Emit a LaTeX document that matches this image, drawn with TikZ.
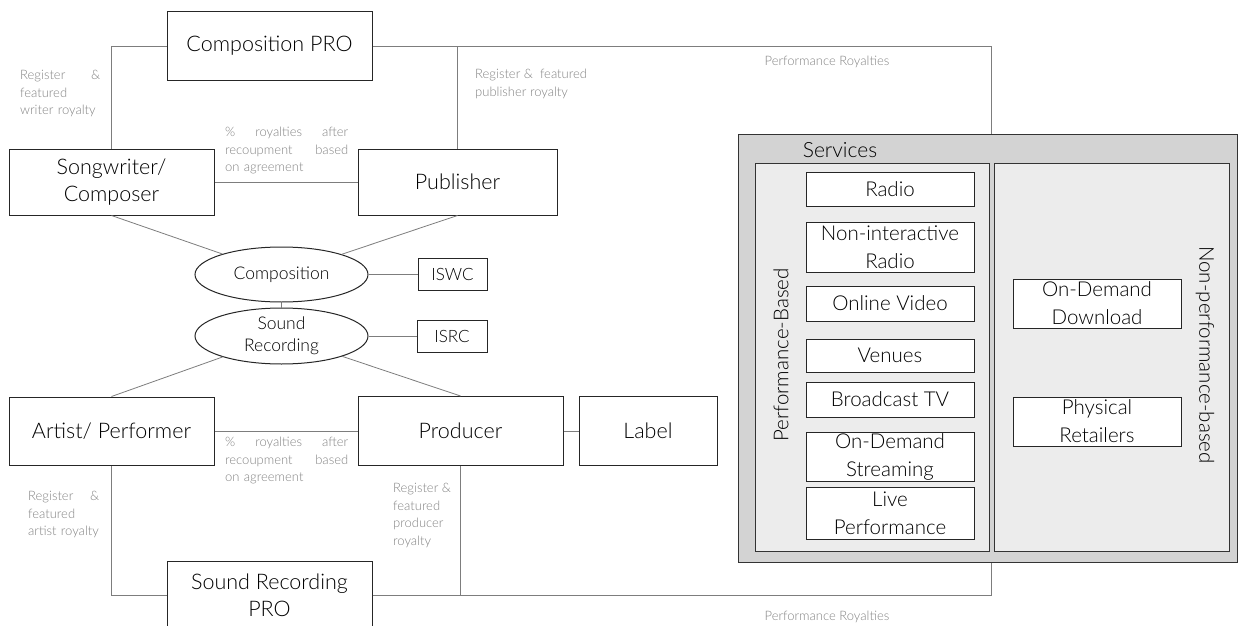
\documentclass[tikz,border=0pt]{standalone}
\usepackage{fontspec}
\setmainfont{Lato Light}
\usetikzlibrary{shapes.geometric}

\definecolor{linegray}{RGB}{125,125,125}
\definecolor{notegray}{RGB}{130,130,130}
\definecolor{svcouter}{RGB}{211,211,211}
\definecolor{svcinner}{RGB}{236,236,236}

\tikzset{
  box/.style={draw=black!85, line width=1pt, fill=white, inner sep=0pt, align=center,
    font=\fontsize{21.5}{27}\selectfont},
  oval/.style={box, ellipse, font=\fontsize{17.5}{22}\selectfont},
  tag/.style={box, font=\fontsize{17}{20}\selectfont},
  svcitem/.style={box, minimum width=168pt, font=\fontsize{20.5}{28}\selectfont},
  panel/.style={draw=black!80, line width=1pt, inner sep=0pt},
  conn/.style={draw=linegray, line width=0.8pt},
  note/.style={text=notegray, font=\fontsize{13}{17.5}\selectfont, inner sep=0pt,
    anchor=north west, align=left}
}

\begin{document}
\begin{tikzpicture}[x=1pt,y=-1pt]
\useasboundingbox (0,0) rectangle (1239,626);

%Services block
\node[panel, fill=svcouter, minimum width=499pt, minimum height=428pt] (svc) at (987.5,348) {};
\node[panel, fill=svcinner, minimum width=234pt, minimum height=388pt] (perfpanel) at (872,357) {};
\node[panel, fill=svcinner, minimum width=235pt, minimum height=388pt] (nonpanel) at (1111.5,357) {};
\node[font=\fontsize{21}{24}\selectfont, inner sep=0pt] (svctitle) at (840,150) {Services};
\node[rotate=90, font=\fontsize{20.5}{24}\selectfont, inner sep=0pt] (perftitle) at (781,355) {Performance-Based};
\node[rotate=-90, font=\fontsize{20.5}{24}\selectfont, inner sep=0pt] (nontitle) at (1205,355) {Non-performance-based};

% performance-based services
\node[svcitem, minimum height=34pt] (radio) at (890,189) {Radio};
\node[svcitem, minimum height=50pt] (nonint) at (890,247) {Non-interactive\\Radio};
\node[svcitem, minimum height=35pt] (video) at (890,303.5) {Online Video};
\node[svcitem, minimum height=33pt] (venues) at (890,355.5) {Venues};
\node[svcitem, minimum height=35pt] (btv) at (890,399.5) {Broadcast TV};
\node[svcitem, minimum height=49pt] (stream) at (890,456.5) {On-Demand\\Streaming};
\node[svcitem, minimum height=52pt] (live) at (890,513) {Live\\Performance};

% non-performance-based services
\node[svcitem, minimum height=49pt] (download) at (1097,303.5) {On-Demand\\Download};
\node[svcitem, minimum height=49pt] (retail) at (1097,421.5) {Physical\\Retailers};

%Rights holders
\node[box, minimum width=205pt, minimum height=68pt] (cpro) at (269.5,46) {Composition PRO};
\node[box, minimum width=205pt, minimum height=66pt] (song) at (111.5,182) {Songwriter/\\Composer};
\node[box, minimum width=199pt, minimum height=66pt] (pub) at (457.5,182) {Publisher};
\node[oval, minimum width=173pt, minimum height=55pt] (comp) at (281.5,274.5) {Composition};
\node[tag, minimum width=69pt, minimum height=32pt] (iswc) at (452.5,274.5) {ISWC};
\node[oval, minimum width=173pt, minimum height=56pt] (snd) at (281.5,336) {Sound\\Recording};
\node[tag, minimum width=70pt, minimum height=32pt] (isrc) at (452,336) {ISRC};
\node[box, minimum width=205pt, minimum height=68pt] (artist) at (111.5,431) {Artist/ Performer};
\node[box, minimum width=205pt, minimum height=69pt] (prod) at (460.5,431) {Producer};
\node[box, minimum width=138pt, minimum height=69pt] (label) at (648,431) {Label};
\node[box, minimum width=205pt, minimum height=68pt] (srpro) at (269.5,595) {Sound Recording\\PRO};

\coordinate (topR) at (991,46);
\coordinate (botR) at (991,595);

%Connectors
\draw[conn] (cpro.west) -| (song.north);
\draw[conn] (cpro.east) -| (pub.north);
\draw[conn] (pub.north |- cpro.east) -- (topR) -- (topR |- svc.north);
\draw[conn] (song.east) -- (pub.west);
\draw[conn] (song.south) -- (comp);
\draw[conn] (pub.south) -- (comp);
\draw[conn] (comp) -- (iswc);
\draw[conn] (comp) -- (snd);
\draw[conn] (snd) -- (isrc);
\draw[conn] (snd) -- (artist.north);
\draw[conn] (snd) -- (prod.north);
\draw[conn] (artist.east) -- (prod.west);
\draw[conn] (prod) -- (label);
\draw[conn] (srpro.west) -| (artist.south);
\draw[conn] (srpro.east) -| (prod.south);
\draw[conn] (prod.south |- srpro.east) -- (botR) -- (botR |- svc.south);

% Text Node
\node[note, text width=80pt] (writerroy) at (20,70) {Register\hfill\&\\featured\\writer royalty};
% Text Node
\node[note, text width=123pt] (pcttop) at (225,127) {\%\hfill royalties\hfill after\\recoupment\hfill based\\on agreement};
% Text Node
\node[note] (pubroy) at (475,69) {Register \& \ featured\\publisher royalty};
% Text Node
\node[note, anchor=center] (perftop) at (827,62) {Performance Royalties};
% Text Node
\node[note, text width=123pt] (pctbot) at (225,437) {\%\hfill royalties\hfill after\\recoupment\hfill based\\on agreement};
% Text Node
\node[note, text width=71pt] (artistroy) at (28,491) {Register\hfill\&\\featured\\artist royalty};
% Text Node
\node[note] (prodroy) at (393,483) {Register \&\\featured\\producer\\royalty};
% Text Node
\node[note, anchor=center] (perfbot) at (827,617) {Performance Royalties};
\end{tikzpicture}
\end{document}
